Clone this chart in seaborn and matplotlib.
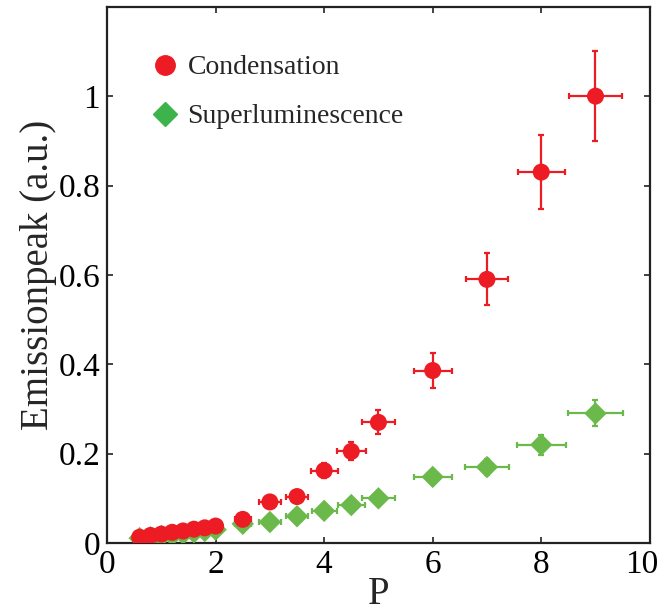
import pandas as pd
import matplotlib
matplotlib.use('Agg')
import matplotlib.pyplot as plt
import matplotlib.transforms as mtransforms
import seaborn as sns
from matplotlib.lines import Line2D
from matplotlib.ticker import FormatStrFormatter

# pump power P
p_vals = [0.6, 0.8, 1.0, 1.2, 1.4, 1.6, 1.8, 2.0, 2.5, 3, 3.5, 4, 4.5, 5, 6, 7, 8, 9]

# Condensation peak + errors
cond_peak = [0.013, 0.017, 0.020, 0.024, 0.027, 0.031, 0.034, 0.038, 0.053,
             0.092, 0.104, 0.162, 0.205, 0.270, 0.386, 0.590, 0.830, 1.000]
cond_xerr = [0.05, 0.05, 0.05, 0.05, 0.05, 0.05, 0.05, 0.05, 0.15,
             0.2, 0.2, 0.25, 0.27, 0.3, 0.35, 0.38, 0.43, 0.48]
cond_yerr = [0.001, 0.002, 0.002, 0.002, 0.003, 0.003, 0.003, 0.004, 0.005,
             0.009, 0.010, 0.016, 0.020, 0.027, 0.040, 0.058, 0.083, 0.100]

# Superluminescence peak + errors
sl_peak = [0.011, 0.013, 0.016, 0.018, 0.021, 0.024, 0.027, 0.030, 0.043,
           0.047, 0.060, 0.072, 0.085, 0.100, 0.148, 0.170, 0.220, 0.290]
sl_xerr = [0.05, 0.05, 0.05, 0.05, 0.05, 0.05, 0.05, 0.05, 0.15,
           0.2, 0.2, 0.23, 0.25, 0.3, 0.35, 0.4, 0.45, 0.5]
sl_yerr = [0.001, 0.001, 0.002, 0.002, 0.002, 0.002, 0.003, 0.003, 0.004,
           0.005, 0.006, 0.007, 0.008, 0.010, 0.015, 0.017, 0.022, 0.029]

RED = '#ed1c24'
GREEN = '#6ab94a'
GREEN_LEG = '#3cb44b'

df = pd.DataFrame({'P': p_vals, 'cond': cond_peak, 'sl': sl_peak})

sns.set_style('ticks')
plt.rcParams['font.family'] = ['Liberation Serif', 'DejaVu Serif']

fig = plt.figure(figsize=(6.61, 6.15), dpi=100)
ax = fig.add_axes([0.162, 0.117, 0.821, 0.872])

# superluminescence first so condensation sits on top
ax.errorbar(df['P'], df['sl'], xerr=sl_xerr, yerr=sl_yerr, fmt='none',
            ecolor=GREEN, elinewidth=1.6, capsize=2, capthick=1.6, zorder=2)
sns.scatterplot(data=df, x='P', y='sl', marker='D', s=130, color=GREEN,
                edgecolor='none', linewidth=0, ax=ax, zorder=3)

ax.errorbar(df['P'], df['cond'], xerr=cond_xerr, yerr=cond_yerr, fmt='none',
            ecolor=RED, elinewidth=1.6, capsize=2, capthick=1.6, zorder=4)
sns.scatterplot(data=df, x='P', y='cond', marker='o', s=150, color=RED,
                edgecolor='none', linewidth=0, ax=ax, zorder=5)

ax.set_xlim(0, 10)
ax.set_ylim(0, 1.2)
ax.set_xticks([0, 2, 4, 6, 8, 10])
ax.set_yticks([0, 0.2, 0.4, 0.6, 0.8, 1.0])
ax.yaxis.set_major_formatter(FormatStrFormatter('%g'))
ax.tick_params(direction='in', length=4, width=1.2, labelsize=24,
               top=True, right=True, colors='#222222', pad=5)
ax.tick_params(labelcolor='black')
for sp in ax.spines.values():
    sp.set_linewidth(1.6)
    sp.set_color('#222222')

# pull the "10" label in a bit so it stays inside the figure
last = ax.get_xticklabels()[-1]
last.set_transform(last.get_transform() +
                   mtransforms.ScaledTranslation(-6 / 72, 0, fig.dpi_scale_trans))

ax.set_xlabel('P', fontsize=28, labelpad=-3)
ax.set_ylabel('Emissionpeak (a.u.)', fontsize=28, labelpad=1)

handles = [
    Line2D([], [], marker='o', linestyle='none', color=RED, markersize=14),
    Line2D([], [], marker='D', linestyle='none', color=GREEN_LEG, markersize=12),
]
ax.legend(handles, ['Condensation', 'Superluminescence'], loc='upper left',
          bbox_to_anchor=(0.061, 0.931), frameon=False, fontsize=20,
          handlelength=1.0, handletextpad=0.3, labelspacing=0.85,
          borderaxespad=0)

fig.savefig('out.png', dpi=100)
